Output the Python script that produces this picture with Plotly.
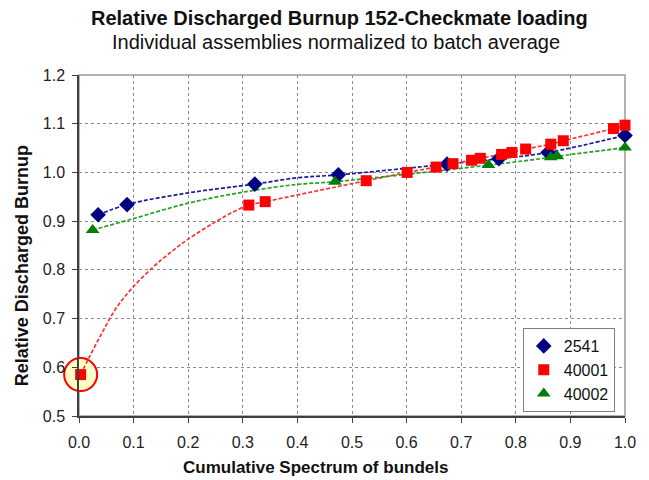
import plotly.graph_objects as go

# ---- Data ----
series_names = ["2541", "40001", "40002"]

# markers
x_2541 = [0.035, 0.088, 0.322, 0.475, 0.674, 0.769, 0.859, 1.0]
y_2541 = [0.913, 0.934, 0.976, 0.995, 1.017, 1.028, 1.041, 1.076]

x_40001 = [0.003, 0.311, 0.341, 0.526, 0.601, 0.654, 0.685, 0.719, 0.735,
           0.774, 0.793, 0.818, 0.864, 0.887, 0.979, 1.0]
y_40001 = [0.585, 0.933, 0.940, 0.983, 1.000, 1.011, 1.018, 1.025, 1.029,
           1.037, 1.041, 1.048, 1.058, 1.065, 1.090, 1.097]

x_40002 = [0.025, 0.469, 0.750, 0.864, 0.876, 1.0]
y_40002 = [0.882, 0.981, 1.015, 1.031, 1.033, 1.051]

# smoothed dashed connecting curves
curve_x_2541 = [0.035, 0.088, 0.200, 0.322, 0.400, 0.475, 0.674, 0.769, 0.859, 1.0]
curve_y_2541 = [0.913, 0.934, 0.958, 0.976, 0.989, 0.995, 1.017, 1.028, 1.041, 1.076]

curve_x_40001 = [0.003, 0.017, 0.041, 0.066, 0.096, 0.136, 0.170, 0.200, 0.249,
                 0.286, 0.311, 0.341, 0.526, 0.601, 0.654, 0.685, 0.719, 0.735,
                 0.774, 0.793, 0.818, 0.864, 0.887, 0.979, 1.0]
curve_y_40001 = [0.585, 0.617, 0.668, 0.718, 0.761, 0.806, 0.838, 0.863, 0.898,
                 0.921, 0.933, 0.940, 0.983, 1.000, 1.011, 1.018, 1.025, 1.029,
                 1.037, 1.041, 1.048, 1.058, 1.065, 1.090, 1.097]

curve_x_40002 = [0.025, 0.096, 0.200, 0.298, 0.396, 0.469, 0.750, 0.864, 0.876, 1.0]
curve_y_40002 = [0.882, 0.904, 0.937, 0.959, 0.975, 0.981, 1.015, 1.031, 1.033, 1.051]

x_ticks = [0.0, 0.1, 0.2, 0.3, 0.4, 0.5, 0.6, 0.7, 0.8, 0.9, 1.0]
y_ticks = [0.5, 0.6, 0.7, 0.8, 0.9, 1.0, 1.1, 1.2]

FONT = "Liberation Sans, Arial, sans-serif"
DASH = "4px,2px"

fig = go.Figure()

# highlight circle around the outlier (first point of 40001)
fig.add_trace(go.Scatter(
    x=[x_40001[0]], y=[y_40001[0]], mode="markers", showlegend=False,
    hoverinfo="skip", cliponaxis=False,
    marker=dict(symbol="circle", size=33, color="#FFFFC8",
                line=dict(color="#FF0000", width=2))))

# dashed curves
for cx, cy, col in [(curve_x_2541, curve_y_2541, "#1A1AA0"),
                    (curve_x_40001, curve_y_40001, "#FF3030"),
                    (curve_x_40002, curve_y_40002, "#22A022")]:
    fig.add_trace(go.Scatter(
        x=cx, y=cy, mode="lines", showlegend=False, hoverinfo="skip",
        cliponaxis=False,
        line=dict(color=col, width=1.7, dash=DASH, shape="spline", smoothing=1)))

# markers
fig.add_trace(go.Scatter(
    x=x_2541, y=y_2541, name=series_names[0], mode="markers", cliponaxis=False,
    marker=dict(symbol="diamond", size=12, color="#000080")))
fig.add_trace(go.Scatter(
    x=x_40001, y=y_40001, name=series_names[1], mode="markers", cliponaxis=False,
    marker=dict(symbol="square", size=11, color="#FF0000")))
fig.add_trace(go.Scatter(
    x=x_40002, y=y_40002, name=series_names[2], mode="markers", cliponaxis=False,
    marker=dict(symbol="triangle-up", size=12, color="#008000")))

axis_common = dict(
    showgrid=True, gridcolor="#8A8A8A", griddash="dot", gridwidth=1,
    showline=True, linecolor="#404040", linewidth=1.5,
    ticks="outside", ticklen=5, tickcolor="#404040",
    tickfont=dict(family=FONT, size=16, color="#222222"),
    zeroline=False,
)

fig.update_xaxes(range=[0, 1.0], tickvals=x_ticks, ticklabelstandoff=6,
                 ticktext=[f"{v:.1f}" for v in x_ticks], **axis_common)
fig.update_yaxes(range=[0.5, 1.2], tickvals=y_ticks, ticklabelstandoff=4,
                 ticktext=[f"{v:.1f}" for v in y_ticks], **axis_common)

# plot frame (top/right)
fig.add_shape(type="rect", xref="x domain", yref="y domain",
              x0=0, x1=1, y0=0, y1=1, line=dict(color="#9A9A9A", width=1.5),
              layer="below")

fig.update_layout(
    width=641, height=472,
    margin=dict(l=71, r=24, t=67, b=64),
    paper_bgcolor="white", plot_bgcolor="white",
    font=dict(family=FONT, color="#222222"),
    legend=dict(x=0.897, y=0.258, xanchor="center", yanchor="top",
                bgcolor="white", bordercolor="#808080", borderwidth=1,
                font=dict(family=FONT, size=16, color="#111111"),
                itemwidth=30, tracegroupgap=0),
    annotations=[
        dict(text="<b>Relative Discharged Burnup 152-Checkmate loading</b>",
             xref="paper", yref="paper", x=0.478, y=1.168, xanchor="center",
             yanchor="middle", showarrow=False,
             font=dict(family=FONT, size=20, color="#111111")),
        dict(text="Individual assemblies normalized to batch average",
             xref="paper", yref="paper", x=0.470, y=1.097, xanchor="center",
             yanchor="middle", showarrow=False,
             font=dict(family=FONT, size=20, color="#111111")),
        dict(text="<b>Cumulative Spectrum of bundels</b>",
             xref="paper", yref="paper", x=0.434, y=-0.152, xanchor="center",
             yanchor="middle", showarrow=False,
             font=dict(family=FONT, size=17, color="#111111")),
        dict(text="<b>Relative Discharged Burnup</b>",
             xref="paper", yref="paper", x=-0.104, y=0.44, xanchor="center",
             yanchor="middle", showarrow=False, textangle=-90,
             font=dict(family=FONT, size=18, color="#111111")),
    ],
)

fig.write_html("out.html")
